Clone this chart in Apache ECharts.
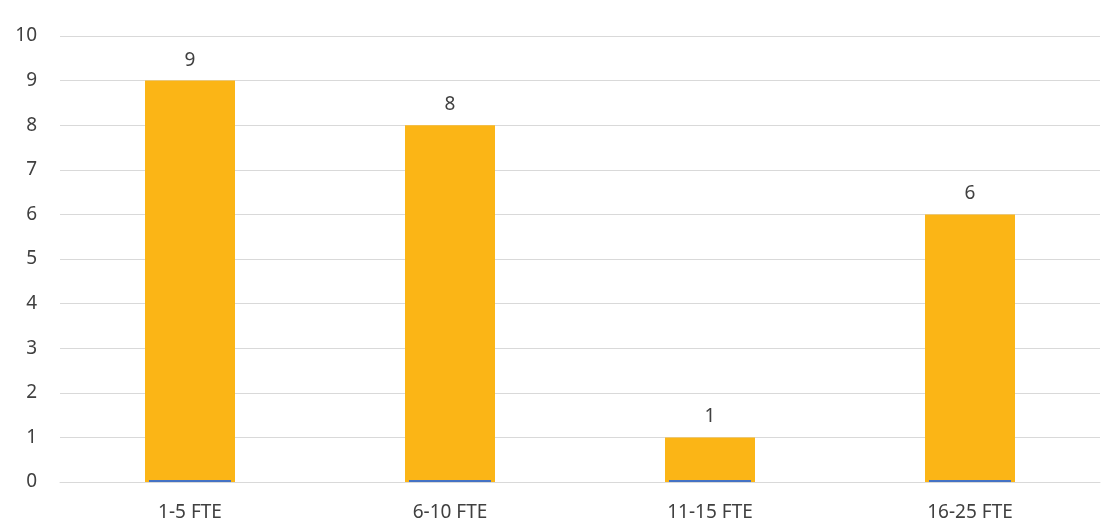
<!DOCTYPE html>
<html>
<head>
<meta charset="utf-8">
<script src="https://cdn.jsdelivr.net/npm/echarts@6/dist/echarts.min.js"></script>
<style>
  html, body { margin: 0; padding: 0; background: #fff; }
  #chart { width: 1106px; height: 530px; }
</style>
</head>
<body>
<div id="chart"></div>
<script>
// Number of organisations per FTE band
const categories = ['1-5 FTE', '6-10 FTE', '11-15 FTE', '16-25 FTE'];
const counts = [9, 8, 1, 6];
// Second series: empty baseline values shown as a thin line
const baseline = [0, 0, 0, 0];
const yTicks = { min: 0, max: 10, interval: 1 };

const font = 'Noto Sans, Liberation Sans, sans-serif';
const chart = echarts.init(document.getElementById('chart'));
chart.setOption({
  animation: false,
  grid: { left: 60, right: 6, top: 36, bottom: 48 },
  xAxis: [
    {
      type: 'category',
      data: categories,
      axisLine: { show: true, lineStyle: { color: '#d9d9d9', width: 1 } },
      axisTick: { show: false },
      axisLabel: { color: '#404040', fontSize: 19, fontFamily: font, margin: 21 }
    },
    {
      type: 'category',
      data: categories,
      show: false
    }
  ],
  yAxis: {
    type: 'value',
    min: yTicks.min,
    max: yTicks.max,
    interval: yTicks.interval,
    axisLine: { show: false },
    axisTick: { show: false },
    splitLine: { lineStyle: { color: '#d9d9d9', width: 1 } },
    axisLabel: { color: '#404040', fontSize: 19, fontFamily: font, margin: 23 }
  },
  series: [
    {
      type: 'bar',
      data: counts,
      xAxisIndex: 0,
      barWidth: 90,
      itemStyle: { color: '#FBB516' },
      label: {
        show: true,
        position: 'top',
        distance: 11,
        color: '#404040',
        fontSize: 19,
        fontFamily: font
      },
      z: 2
    },
    {
      type: 'bar',
      data: baseline,
      xAxisIndex: 1,
      barWidth: 82,
      barMinHeight: 2,
      itemStyle: { color: '#4472C4' },
      z: 3
    }
  ]
});
</script>
</body>
</html>
